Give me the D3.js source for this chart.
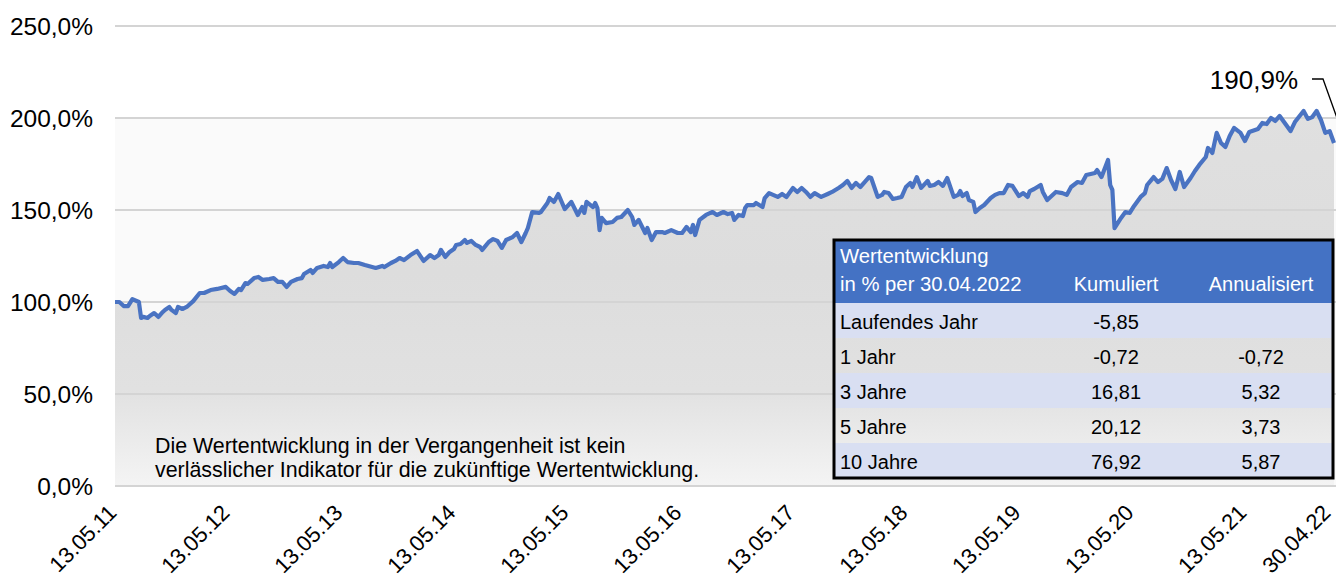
<!DOCTYPE html>
<html><head><meta charset="utf-8">
<script src="https://cdn.jsdelivr.net/npm/d3@7"></script>
<style>
html,body{margin:0;padding:0;background:#fff;}
svg{display:block;font-family:"Liberation Sans",Arial,sans-serif;}
</style></head>
<body><svg id="c" width="1336" height="581"></svg>
<script>
// x = week index since 13.05.2011
const weeks = [0,2,4,6,8,11,12,13,15,16,18,20,22,23,25,26,28,29,31,33,36,39,41,44,47,51,53,55,57,58,60,61,64,66,68,71,73,75,77,79,81,84,86,87,90,91,93,96,98,99,100,103,105,107,110,112,115,120,123,124,127,129,131,133,136,139,142,145,147,149,150,152,154,156,157,159,161,162,164,166,168,169,172,174,176,178,180,183,185,187,189,190,192,195,196,199,200,202,204,207,210,213,215,216,217,220,221,222,223,224,226,229,231,233,236,238,239,241,244,245,247,249,252,253,256,259,261,263,265,266,267,269,272,274,275,277,280,282,284,285,287,289,290,291,294,295,298,299,301,305,307,309,312,314,316,318,320,322,325,328,330,333,335,337,339,341,343,345,347,348,351,353,354,356,358,360,362,364,366,367,369,371,374,375,377,379,381,383,386,388,389,390,392,393,395,396,398,400,403,405,407,409,411,413,416,418,420,421,423,426,427,429,431,433,436,438,440,443,445,447,451,452,454,457,458,459,460,463,465,467,469,472,474,475,478,480,482,484,486,488,490,492,495,497,499,502,503,505,507,509,511,513,515,518,520,522,526,528,530,532,534,536,538,541,543,547,549,551,553,555,557,559,561];
const values = [100.0,100.0,97.8,97.8,101.6,100.0,91.3,91.9,91.3,92.4,94.0,91.9,94.6,95.7,97.3,95.7,94.0,97.3,96.2,97.3,100.5,104.9,104.9,106.5,107.1,108.2,106.0,104.4,107.1,106.5,110.3,109.8,113.0,113.6,112.0,112.5,113.0,110.9,110.9,108.2,110.9,112.5,113.0,115.2,117.4,115.8,118.5,119.6,119.0,121.2,119.0,121.7,123.9,121.7,121.2,121.2,120.1,118.5,119.6,119.0,121.2,122.3,123.9,122.8,125.5,127.7,122.3,125.5,123.9,125.5,128.3,124.5,127.2,128.8,131.0,131.5,133.7,132.1,133.2,131.0,129.9,128.3,132.6,134.2,133.2,129.4,133.7,135.3,137.5,132.6,137.5,140.2,148.9,148.4,148.9,153.8,156.5,154.4,158.7,150.5,154.4,147.3,151.6,148.4,154.4,151.6,153.8,151.1,139.1,145.7,142.9,143.5,145.7,146.2,150.0,146.2,141.9,144.6,137.5,140.2,133.7,138.0,138.0,137.5,139.1,137.5,137.5,140.8,138.0,141.9,136.4,144.6,147.3,148.4,148.9,147.3,148.9,147.8,148.4,144.6,147.3,146.7,151.1,152.7,152.7,153.8,151.6,156.5,159.2,157.1,158.7,157.1,162.0,159.8,162.0,159.8,157.1,159.2,157.1,158.7,159.8,162.0,163.6,165.8,162.0,164.7,162.5,165.2,167.9,167.4,157.1,158.2,159.8,159.2,156.0,156.5,157.1,162.5,164.7,162.5,167.9,162.0,165.8,163.1,163.6,165.2,163.1,167.4,157.1,158.2,160.3,157.6,159.2,155.4,154.4,148.9,151.1,152.7,156.5,158.2,159.2,159.2,163.6,163.1,157.6,159.2,157.1,160.3,161.4,163.6,159.8,155.4,157.6,159.8,159.2,158.2,162.5,165.2,164.7,169.0,170.1,171.7,167.9,177.2,163.6,160.9,140.2,145.7,148.9,148.4,152.2,157.1,159.2,163.6,167.9,165.2,166.9,172.8,166.3,161.4,170.7,162.5,167.4,171.2,174.5,178.8,183.7,181.0,191.9,186.4,184.2,190.2,194.6,191.9,187.5,192.4,194.0,197.3,196.7,200.0,198.4,201.1,197.8,192.9,197.8,203.8,199.5,200.5,203.8,198.9,191.9,192.9,186.4];

const tickWeeks = [0,52,104,156,208,260,312,364,416,468,520,561];
const tickLabels = ["13.05.11","13.05.12","13.05.13","13.05.14","13.05.15","13.05.16","13.05.17","13.05.18","13.05.19","13.05.20","13.05.21","30.04.22"];
const yTicks = [0,50,100,150,200,250];
const endLabel = "190,9%";

const noteLines = ["Die Wertentwicklung in der Vergangenheit ist kein","verlässlicher Indikator für die zukünftige Wertentwicklung."];
const tableTitle = ["Wertentwicklung","in % per 30.04.2022"];
const tableCols = ["Kumuliert","Annualisiert"];
const periods = ["Laufendes Jahr","1 Jahr","3 Jahre","5 Jahre","10 Jahre"];
const cumulative = ["-5,85","-0,72","16,81","20,12","76,92"];
const annualized = ["","-0,72","5,32","3,73","5,87"];

const svg = d3.select("#c");
const L = 115, R = 1336;
const x = d3.scaleLinear().domain([0,561]).range([L,1334]);
const y = d3.scaleLinear().domain([0,250]).range([486,26]);
const data = weeks.map((w,i)=>({w, v: values[i]}));

const defs = svg.append("defs");
const g1 = defs.append("linearGradient").attr("id","ag").attr("gradientUnits","userSpaceOnUse")
  .attr("x1",0).attr("x2",0).attr("y1",y(210)).attr("y2",y(0));
g1.append("stop").attr("offset",0).attr("stop-color","#e0e0e0");
g1.append("stop").attr("offset",0.45).attr("stop-color","#dddddd");
g1.append("stop").attr("offset",0.75).attr("stop-color","#e1e1e1");
g1.append("stop").attr("offset",1).attr("stop-color","#f4f4f4");

// plot background
svg.append("rect").attr("x",L).attr("width",R-L).attr("y",y(200)).attr("height",y(0)-y(200)).attr("fill","#fafafa");

// area
svg.append("path").datum(data)
  .attr("d", d3.area().x(d=>x(d.w)).y0(y(0)).y1(d=>y(d.v)))
  .attr("fill","url(#ag)");

// grid lines
svg.append("g").selectAll("line").data(yTicks).join("line")
  .attr("x1",L).attr("x2",R).attr("y1",d=>y(d)).attr("y2",d=>y(d))
  .attr("stroke","#d4d4d4").attr("stroke-width",2);

// y labels
svg.append("g").selectAll("text").data(yTicks).join("text")
  .attr("x",93).attr("y",d=>y(d)).attr("dy","0.35em").attr("text-anchor","end")
  .attr("font-size",24.5).attr("fill","#000")
  .text(d=>d3.format(".1f")(d).replace(".",",")+"%");

// x labels
svg.append("g").selectAll("text").data(tickWeeks).join("text")
  .attr("text-anchor","end").attr("font-size",22).attr("fill","#000")
  .attr("transform",d=>`translate(${Math.min(x(d)+3,1332)},514) rotate(-45)`)
  .text((d,i)=>tickLabels[i]);

// line
svg.append("path").datum(data)
  .attr("d", d3.line().x(d=>x(d.w)).y(d=>y(d.v)))
  .attr("fill","none").attr("stroke","#4a73c2").attr("stroke-width",4.2)
  .attr("stroke-linejoin","round");

// end label
svg.append("text").attr("x",1298).attr("y",89).attr("text-anchor","end")
  .attr("font-size",26).attr("fill","#000").text(endLabel);
svg.append("path").attr("d",`M1312,79 L1323,79 L${x(561)+3},${y(200)}`)
  .attr("fill","none").attr("stroke","#000").attr("stroke-width",1.3);

// footnote
svg.append("g").selectAll("text").data(noteLines).join("text")
  .attr("x",155).attr("y",(d,i)=>453+i*24).attr("font-size",21.4).attr("fill","#000").text(d=>d);

// table
const tx0 = 834, tx1 = 1333, ty0 = 240, headH = 63, rowH = 35;
const colK = 1116, colA = 1261;
const tg = svg.append("g");
tg.append("rect").attr("x",tx0).attr("y",ty0).attr("width",tx1-tx0).attr("height",headH).attr("fill","#4472c4");
tg.selectAll("rect.row").data(periods).join("rect").attr("class","row")
  .attr("x",tx0).attr("y",(d,i)=>ty0+headH+i*rowH).attr("width",tx1-tx0).attr("height",rowH)
  .attr("fill",(d,i)=>i%2===0?"#d9dff2":"none");
tg.append("text").attr("x",tx0+6).attr("y",ty0+23).attr("font-size",20.3).attr("fill","#fff").text(tableTitle[0]);
tg.append("text").attr("x",tx0+6).attr("y",ty0+51).attr("font-size",20.3).attr("fill","#fff").text(tableTitle[1]);
tg.append("text").attr("x",colK).attr("y",ty0+51).attr("text-anchor","middle").attr("font-size",20).attr("fill","#fff").text(tableCols[0]);
tg.append("text").attr("x",colA).attr("y",ty0+51).attr("text-anchor","middle").attr("font-size",20).attr("fill","#fff").text(tableCols[1]);
periods.forEach((p,i)=>{
  const by = ty0+headH+i*rowH+26;
  tg.append("text").attr("x",tx0+6).attr("y",by).attr("font-size",20).attr("fill","#000").text(p);
  tg.append("text").attr("x",colK).attr("y",by).attr("text-anchor","middle").attr("font-size",20).attr("fill","#000").text(cumulative[i]);
  tg.append("text").attr("x",colA).attr("y",by).attr("text-anchor","middle").attr("font-size",20).attr("fill","#000").text(annualized[i]);
});
tg.append("rect").attr("x",tx0).attr("y",ty0).attr("width",tx1-tx0).attr("height",headH+rowH*periods.length)
  .attr("fill","none").attr("stroke","#000").attr("stroke-width",3);
</script></body></html>
